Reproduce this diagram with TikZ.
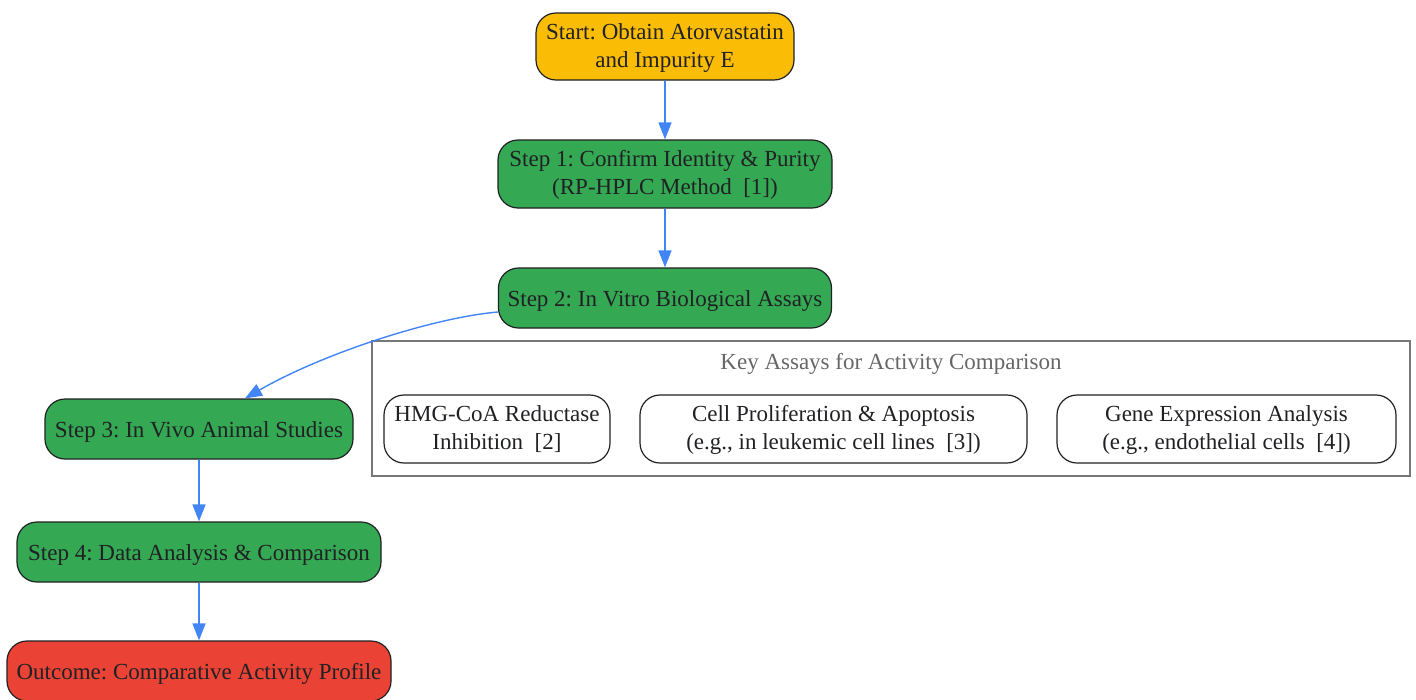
\documentclass[tikz,border=0pt]{standalone}
\usepackage{fontspec}
\setmainfont{Liberation Serif}
\usetikzlibrary{arrows.meta}
\definecolor{gyellow}{HTML}{FBBC05}
\definecolor{ggreen}{HTML}{34A853}
\definecolor{gred}{HTML}{EA4335}
\definecolor{gblue}{HTML}{4285F4}
\definecolor{txt}{HTML}{202124}
\definecolor{clusterline}{HTML}{777777}
\definecolor{clustertxt}{HTML}{666666}
\tikzset{
  box/.style={draw=txt, line width=1.2pt, rounded corners=20pt, inner sep=0pt,
    text=txt, font=\fontsize{23}{28}\selectfont\frenchspacing},
  assay/.style={box, fill=white, rounded corners=20pt},
  flow/.style={draw=gblue, line width=1.4pt, -{Triangle[length=17pt,width=13pt]}}
}
\renewcommand{\arraystretch}{1}
\begin{document}
\begin{tikzpicture}[x=1pt,y=-1pt]
\useasboundingbox (0,0) rectangle (1416,699);
% cluster
\node[draw=clusterline, line width=1.2pt, minimum width=1038pt, minimum height=135pt, inner sep=0pt] (cl) at (891,408.5) {};
\node[text=clustertxt, font=\fontsize{23}{28}\selectfont] (clt) at (891,364) {Key Assays for Activity Comparison};
% main flow
\node[box, fill=gyellow, minimum width=258pt, minimum height=67pt] (st) at (665,46.5) {\begin{tabular}{@{}c@{}}\rule{0pt}{22pt}Start: Obtain Atorvastatin\\and Impurity E\end{tabular}};
\node[box, fill=ggreen, minimum width=334pt, minimum height=68pt] (s1) at (665,174) {\begin{tabular}{@{}c@{}}\rule{0pt}{22pt}Step 1: Confirm Identity \& Purity\\(RP-HPLC Method~~[1])\end{tabular}};
\node[box, fill=ggreen, minimum width=333pt, minimum height=60pt] (s2) at (665,298) {\rule{0pt}{21pt}Step 2: In Vitro Biological Assays};
\node[box, fill=ggreen, minimum width=308pt, minimum height=60pt] (s3) at (199,429) {\rule{0pt}{21pt}Step 3: In Vivo Animal Studies};
\node[box, fill=ggreen, minimum width=364pt, minimum height=60pt] (s4) at (199,552) {\rule{0pt}{21pt}Step 4: Data Analysis \& Comparison};
\node[box, fill=gred, minimum width=384pt, minimum height=60pt] (out) at (199,671) {\rule{0pt}{21pt}Outcome: Comparative Activity Profile};
% assays
\node[assay, minimum width=226pt, minimum height=68pt] (a1) at (497,429) {\begin{tabular}{@{}c@{}}\rule{0pt}{22pt}HMG-CoA Reductase\\Inhibition~~[2]\end{tabular}};
\node[assay, minimum width=387pt, minimum height=68pt] (a2) at (833.5,429) {\begin{tabular}{@{}c@{}}\rule{0pt}{22pt}Cell Proliferation \& Apoptosis\\(e.g., in leukemic cell lines~~[3])\end{tabular}};
\node[assay, minimum width=339pt, minimum height=68pt] (a3) at (1226.5,429) {\begin{tabular}{@{}c@{}}\rule{0pt}{22pt}Gene Expression Analysis\\(e.g., endothelial cells~~[4])\end{tabular}};
% connectors
\draw[flow] (st) -- (s1);
\draw[flow] (s1) -- (s2);
\draw[flow] ([yshift=-14pt]s2.west) .. controls (430,318) and (320,355) .. ([xshift=46pt]s3.north);
\draw[flow] (s3) -- (s4);
\draw[flow] (s4) -- (out);
\end{tikzpicture}
\end{document}
